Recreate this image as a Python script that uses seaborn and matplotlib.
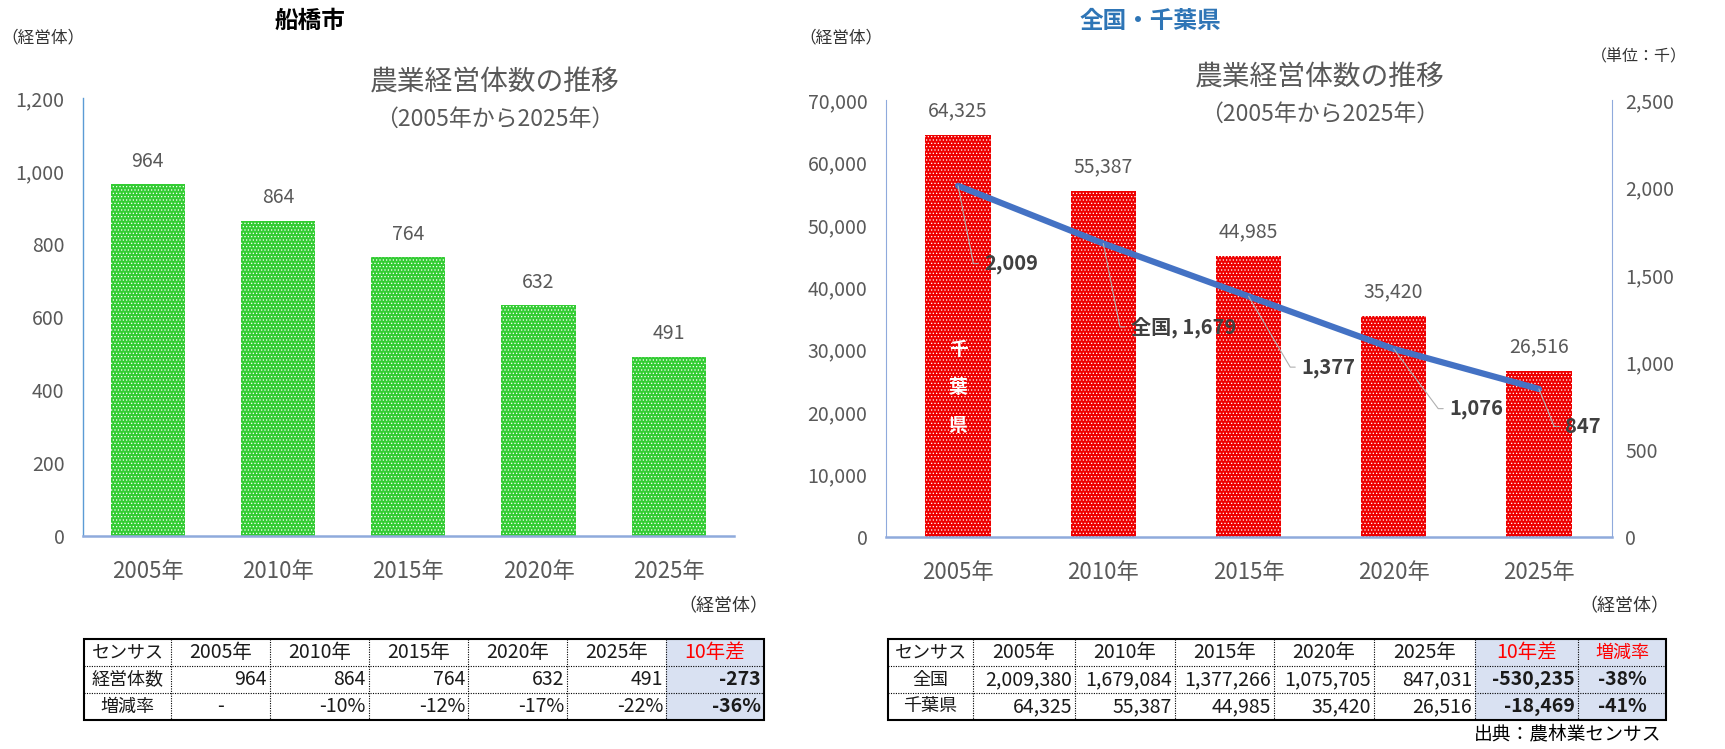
import numpy as np
import matplotlib
matplotlib.use('Agg')
import matplotlib.pyplot as plt
import seaborn as sns
from matplotlib.patches import Rectangle

# data
years = ['2005年', '2010年', '2015年', '2020年', '2025年']
funabashi = [964, 864, 764, 632, 491]
funabashi_rate = ['-', '-10%', '-12%', '-17%', '-22%']
funabashi_diff = '-273'
funabashi_diff_rate = '-36%'
zenkoku = [2009380, 1679084, 1377266, 1075705, 847031]
chiba = [64325, 55387, 44985, 35420, 26516]
zenkoku_diff = '-530,235'
chiba_diff = '-18,469'
zenkoku_rate = '-38%'
chiba_rate = '-41%'
zenkoku_k = [round(v / 1000) for v in zenkoku]

sns.set_style('white')
plt.rcParams['font.family'] = ['Noto Sans CJK JP', 'DejaVu Sans']
plt.rcParams['hatch.color'] = 'white'
plt.rcParams['hatch.linewidth'] = 0.5

W, H = 1725, 749
fig = plt.figure(figsize=(W / 100, H / 100), dpi=100)
GRAY = '#595959'
AXBLUE = '#8FAADC'


def px_axes(l, t, r, b):
    return fig.add_axes([l / W, 1 - b / H, (r - l) / W, (b - t) / H])


def style_axis(ax):
    ax.tick_params(length=0, labelsize=14, colors=GRAY, pad=13)
    ax.tick_params(axis='x', labelsize=16, pad=17)
    ax.set_xlabel('')
    ax.set_ylabel('')
    ax.set_xlim(-0.5, len(years) - 0.5)


# ---- 船橋市 ----
ax1 = px_axes(82.5, 98, 734, 536)
sns.barplot(x=years, y=funabashi, color='#33CC33', saturation=1, width=0.57,
            edgecolor='white', linewidth=0, hatch='.....', ax=ax1)
ax1.bar_label(ax1.containers[0], labels=[f'{v:,}' for v in funabashi],
              padding=9, fontsize=14, color=GRAY)
ax1.set_ylim(0, 1200)
ax1.set_yticks(range(0, 1201, 200))
ax1.yaxis.set_major_formatter('{x:,.0f}')
style_axis(ax1)
sns.despine(ax=ax1)
ax1.spines['left'].set_color('#5B9BD5')
ax1.spines['left'].set_linewidth(1)
ax1.spines['bottom'].set_color(AXBLUE)
ax1.spines['bottom'].set_linewidth(1.8)

# ---- 全国・千葉県 ----
ax2 = px_axes(885.5, 100, 1611.5, 537)
sns.barplot(x=years, y=chiba, color='#EE0000', saturation=1, width=0.45,
            edgecolor='white', linewidth=0, hatch='.....', ax=ax2)
ax2.bar_label(ax2.containers[0], labels=[f'{v:,}' for v in chiba],
              padding=10, fontsize=14, color=GRAY)
ax2.set_ylim(0, 70000)
ax2.set_yticks(range(0, 70001, 10000))
ax2.yaxis.set_major_formatter('{x:,.0f}')
style_axis(ax2)
for s in ['top', 'right']:
    ax2.spines[s].set_visible(False)
ax2.spines['left'].set_color(AXBLUE)
ax2.spines['bottom'].set_color(AXBLUE)
ax2.spines['bottom'].set_linewidth(1.8)

for i, ch in enumerate('千葉県'):
    ax2.text(0, 30000 - i * 6100, ch, ha='center', va='center', color='white',
             fontsize=13.5, fontweight='bold')

ax3 = ax2.twinx()
sns.lineplot(x=np.arange(len(years)), y=zenkoku_k, ax=ax3, color='#4472C4',
             linewidth=4.5)
ax3.set_ylim(0, 2500)
ax3.set_yticks(range(0, 2501, 500))
ax3.yaxis.set_major_formatter('{x:,.0f}')
ax3.tick_params(length=0, labelsize=14, colors=GRAY, pad=10)
ax3.set_ylabel('')
ax3.set_xlim(-0.5, len(years) - 0.5)
for s in ['top', 'left', 'bottom']:
    ax3.spines[s].set_visible(False)
ax3.spines['right'].set_color(AXBLUE)

offsets = [(19, -56), (20, -60), (38, -51), (40, -43), (19, -27)]
for i, (v, off) in enumerate(zip(zenkoku_k, offsets)):
    txt = f'{v:,}' if i != 1 else f'全国, {v:,}'
    ang = np.degrees(np.arctan2(off[1], off[0] - 8))
    ax3.annotate(txt, xy=(i, v), xytext=off, textcoords='offset points',
                 ha='left', va='center', fontsize=14.5, fontweight='bold',
                 color='#404040',
                 arrowprops=dict(arrowstyle='-', color='#B0B0B0', lw=0.8,
                                 relpos=(0, 0.5), shrinkA=2, shrinkB=0,
                                 connectionstyle=f'angle,angleA=0,angleB={ang:.1f},rad=0'))

# ---- overlay for texts and tables (pixel coords) ----
ov = fig.add_axes([0, 0, 1, 1])
ov.set_xlim(0, W)
ov.set_ylim(H, 0)
ov.axis('off')

ov.text(310, 21, '船橋市', ha='center', va='center', fontsize=17, fontweight='bold', color='black')
ov.text(1150, 21, '全国・千葉県', ha='center', va='center', fontsize=17, fontweight='bold', color='#2E75B6')
ov.text(43, 38, '（経営体）', ha='center', va='center', fontsize=12, color='#333333')
ov.text(841, 38, '（経営体）', ha='center', va='center', fontsize=12, color='#333333')
ov.text(1639, 57, '（単位：千）', ha='center', va='center', fontsize=11.5, color='#333333')
ov.text(723, 606, '（経営体）', ha='center', va='center', fontsize=13, color='#333333')
ov.text(1624, 606, '（経営体）', ha='center', va='center', fontsize=13, color='#333333')
for cx, ty in [(495, 83), (1320, 78)]:
    ov.text(cx, ty, '農業経営体数の推移', ha='center', va='center', fontsize=20, color=GRAY)
    ov.text(cx, ty + 36, '（2005年から2025年）', ha='center', va='center', fontsize=16.5, color=GRAY)
ov.text(1661, 734, '出典：農林業センサス', ha='right', va='center', fontsize=13.5, color='black')


def draw_table(xe, ye, cells, shade_from):
    top, bot = ye[0], ye[-1]
    ov.add_patch(Rectangle((xe[shade_from], top), xe[-1] - xe[shade_from], bot - top,
                           facecolor='#D9E1F2', edgecolor='none'))
    for x in xe[1:-1]:
        ov.plot([x, x], [top, bot], color='black', lw=0.8, ls=(0, (1, 1.2)))
    for y in ye[1:-1]:
        ov.plot([xe[0], xe[-1]], [y, y], color='black', lw=0.8, ls=(0, (1, 1.2)))
    ov.add_patch(Rectangle((xe[0], top), xe[-1] - xe[0], bot - top,
                           fill=False, edgecolor='black', lw=1.5))
    for r, row in enumerate(cells):
        for c, (txt, align, bold, red) in enumerate(row):
            yc = (ye[r] + ye[r + 1]) / 2
            if align == 'right':
                x = xe[c + 1] - 3
            else:
                x = (xe[c] + xe[c + 1]) / 2
            numeric = txt[:1].isdigit() or txt[:1] == '-'
            ov.text(x, yc, txt, ha=align, va='center',
                    fontsize=14 if numeric else 13,
                    fontweight='bold' if bold else 'normal',
                    color='#FF0000' if red else '#1A1A1A')


rows_y = [639, 666, 693, 720]

left_cells = [
    [('センサス', 'center', False, False)] + [(y, 'center', False, False) for y in years]
    + [('10年差', 'center', False, True)],
    [('経営体数', 'center', False, False)] + [(f'{v:,}', 'right', False, False) for v in funabashi]
    + [(funabashi_diff, 'right', True, False)],
    [('増減率', 'center', False, False)]
    + [(r, 'center' if r == '-' else 'right', False, False) for r in funabashi_rate]
    + [(funabashi_diff_rate, 'right', True, False)],
]
draw_table([84, 171, 270, 369, 468, 567, 666, 764], rows_y, left_cells, 6)

right_cells = [
    [('センサス', 'center', False, False)] + [(y, 'center', False, False) for y in years]
    + [('10年差', 'center', False, True), ('増減率', 'center', False, True)],
    [('全国', 'center', False, False)] + [(f'{v:,}', 'right', False, False) for v in zenkoku]
    + [(zenkoku_diff, 'right', True, False), (zenkoku_rate, 'center', True, False)],
    [('千葉県', 'center', False, False)] + [(f'{v:,}', 'right', False, False) for v in chiba]
    + [(chiba_diff, 'right', True, False), (chiba_rate, 'center', True, False)],
]
draw_table([888, 973, 1075, 1175, 1274, 1374, 1475, 1578, 1666], rows_y, right_cells, 6)

plt.savefig('out.png', dpi=100)
